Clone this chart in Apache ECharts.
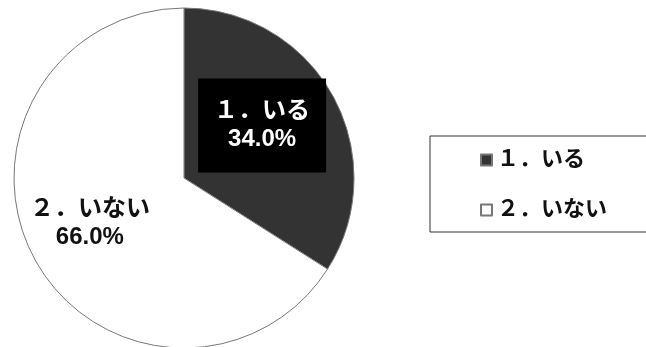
<!DOCTYPE html>
<html lang="ja">
<head>
<meta charset="UTF-8">
<title>pie</title>
<script src="https://cdn.jsdelivr.net/npm/echarts@6/dist/echarts.min.js"></script>
<style>
  html, body { margin: 0; padding: 0; background: #fff; }
</style>
</head>
<body>
<div id="main" style="width:646px;height:347px;"></div>
<script type="text/javascript">
// data
var categories = ['１．いる', '２．いない'];
var values = [34.0, 66.0];
var colors = ['#333333', '#ffffff'];

var myChart = echarts.init(document.getElementById('main'));
var font = '"Liberation Sans", "Noto Sans CJK JP", sans-serif';

var pieData = [];
for (var i = 0; i < categories.length; i++) {
    pieData.push({ name: categories[i], value: values[i] });
}
// label look for each slice
pieData[0].label = {
    color: '#fff',
    textBorderColor: '#000',
    textBorderWidth: 3,
    backgroundColor: '#000',
    padding: [19, 16, 19, 16],
    offset: [1, -10]
};
pieData[1].label = {
    color: '#111',
    offset: [-17, 3]
};

var option = {
    animation: false,
    color: colors,
    legend: {
        orient: 'vertical',
        left: 430,
        top: 136,
        padding: [13, 120, 11, 50],
        itemGap: 28,
        itemWidth: 11,
        itemHeight: 11,
        icon: 'rect',
        borderColor: '#333',
        borderWidth: 1,
        textStyle: { fontSize: 22, lineHeight: 22, fontWeight: 'bold', color: '#111', fontFamily: font },
        data: categories
    },
    series: [{
        name: '回答',
        type: 'pie',
        radius: 170,
        center: [184, 178],
        startAngle: 90,
        clockwise: true,
        itemStyle: { borderColor: '#777', borderWidth: 1 },
        label: {
            position: 'inside',
            fontSize: 24,
            fontWeight: 'bold',
            fontFamily: font,
            lineHeight: 28,
            formatter: function (p) { return p.name + '\n' + p.value.toFixed(1) + '%'; }
        },
        labelLine: { show: false },
        emphasis: { disabled: true },
        data: pieData
    }]
};
myChart.setOption(option);
</script>
</body>
</html>
